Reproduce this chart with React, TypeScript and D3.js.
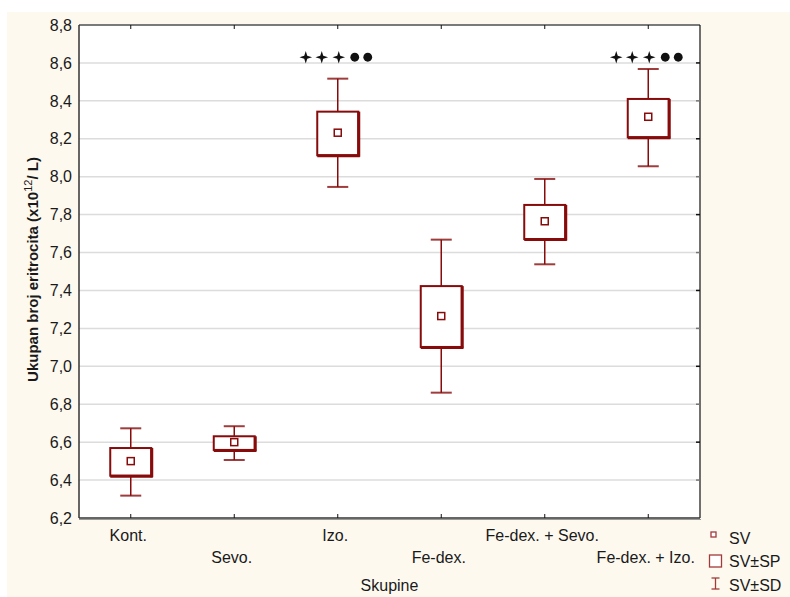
import React from "react";
import * as d3 from "d3";

const categories = ["Kont.", "Sevo.", "Izo.", "Fe-dex.", "Fe-dex. + Sevo.", "Fe-dex. + Izo."];
const means = [6.5, 6.6, 8.232, 7.265, 7.765, 8.316];
const seLow = [6.423, 6.559, 8.113, 7.102, 7.671, 8.208];
const seHigh = [6.569, 6.631, 8.343, 7.423, 7.851, 8.41];
const sdLow = [6.318, 6.506, 7.946, 6.861, 7.538, 8.055];
const sdHigh = [6.673, 6.684, 8.517, 7.668, 7.988, 8.568];
const marks = ["", "", "✦✦✦●●", "", "", "✦✦✦●●"];
const yTicks = [6.2, 6.4, 6.6, 6.8, 7.0, 7.2, 7.4, 7.6, 7.8, 8.0, 8.2, 8.4, 8.6, 8.8];
const legendLabels = ["SV", "SV±SP", "SV±SD"];
const xTitle = "Skupine";

const W = 790, H = 597;
const L = 79, R = 700, T = 25, B = 518;
const RED = "#870b0b";
const FONT = "'Liberation Sans', Arial, sans-serif";

function starPath(cx: number, cy: number, ro: number, ri: number) {
  const pts: string[] = [];
  for (let i = 0; i < 8; i++) {
    const a = (Math.PI / 4) * i - Math.PI / 2;
    const r = i % 2 === 0 ? ro : ri;
    pts.push(`${cx + r * Math.cos(a)},${cy + r * Math.sin(a)}`);
  }
  return "M" + pts.join("L") + "Z";
}

export default function App() {
  const y = d3.scaleLinear().domain([6.2, 8.8]).range([B, T]);
  const x = d3.scaleBand<string>().domain(categories).range([L, R]);
  const cx = (c: string) => (x(c) as number) + x.bandwidth() / 2;
  const fmt = (v: number) => d3.format(".1f")(v).replace(".", ",");
  const boxW = 41;
  const capW = 21;
  const markOffsets = [-32, -16, 1, 17, 30];

  return (
    <svg width={W} height={H} style={{ position: "absolute", left: 0, top: 0 }} fontFamily={FONT}>
      <rect x={0} y={0} width={W} height={H} fill="#ffffff" />
      <rect x={7} y={12} width={W - 7} height={H - 12} fill="#fdf9ef" />
      <rect x={L} y={T} width={R - L} height={B - T} fill="#ffffff" />
      {yTicks.slice(1, -1).map((t) => (
        <line key={t} x1={L} x2={R} y1={y(t)} y2={y(t)} stroke="#dcdcdc" strokeWidth={1.5} />
      ))}
      {/* frame */}
      <line x1={L} x2={R} y1={T} y2={T} stroke="#7a7a7a" strokeWidth={2} />
      <line x1={R} x2={R} y1={T} y2={B} stroke="#111" strokeWidth={1.2} />
      <line x1={L} x2={L} y1={T} y2={B} stroke="#333" strokeWidth={1.5} />
      <line x1={L} x2={R} y1={B} y2={B} stroke="#333" strokeWidth={1.5} />
      <line x1={L} x2={R + 1} y1={B + 1.5} y2={B + 1.5} stroke="#999" strokeWidth={1} />
      {yTicks.slice(1, -1).map((t, i) => (
        <line key={"rt" + t} x1={R - 4} x2={R} y1={y(t)} y2={y(t)} stroke={i % 2 === 0 ? "#777" : "#111"} strokeWidth={1.5} />
      ))}
      {categories.map((c) => (
        <g key={"tk" + c}>
          <line x1={cx(c)} x2={cx(c)} y1={B} y2={B - 4} stroke="#111" strokeWidth={1} />
          <line x1={cx(c)} x2={cx(c)} y1={T} y2={T + 4} stroke="#111" strokeWidth={1} />
        </g>
      ))}
      {/* y tick labels */}
      {yTicks.map((t) => (
        <text key={"yl" + t} x={72} y={y(t) + 5.7} textAnchor="end" fontSize={16} fill="#1a1a1a">
          {fmt(t)}
        </text>
      ))}
      {/* x tick labels */}
      {categories.map((c, i) => (
        <text key={"xl" + c} x={cx(c) - 2.5} y={i % 2 === 0 ? 541 : 563} textAnchor="middle" fontSize={16} fill="#1a1a1a">
          {c}
        </text>
      ))}
      <text x={(L + R) / 2} y={591} textAnchor="middle" fontSize={16} fill="#1a1a1a">
        {xTitle}
      </text>
      <text transform={`translate(38, ${(T + B) / 2 - 2}) rotate(-90)`} textAnchor="middle" fontSize={15} fontWeight="bold" fill="#1a1a1a">
        Ukupan broj eritrocita (x10
        <tspan dy={-6} fontSize={11} fontWeight="normal">12</tspan>
        <tspan dy={6}>/ L)</tspan>
      </text>
      {/* boxes */}
      {categories.map((c, i) => {
        const xc = cx(c);
        const x0 = xc - boxW / 2;
        const yt = y(seHigh[i]);
        const yb = y(seLow[i]);
        return (
          <g key={"bx" + c}>
            <line x1={xc} x2={xc} y1={y(sdHigh[i])} y2={yt} stroke={RED} strokeWidth={1.5} />
            <line x1={xc} x2={xc} y1={yb} y2={y(sdLow[i])} stroke={RED} strokeWidth={1.5} />
            <line x1={xc - capW / 2} x2={xc + capW / 2} y1={y(sdHigh[i])} y2={y(sdHigh[i])} stroke={RED} strokeWidth={2} strokeOpacity={0.8} />
            <line x1={xc - capW / 2} x2={xc + capW / 2} y1={y(sdLow[i])} y2={y(sdLow[i])} stroke={RED} strokeWidth={2} strokeOpacity={0.8} />
            <rect x={x0} y={yt} width={boxW} height={yb - yt} fill="#fff" stroke={RED} strokeWidth={2} />
            <line x1={x0} x2={x0 + boxW + 1.5} y1={yb + 0.5} y2={yb + 0.5} stroke={RED} strokeWidth={3} />
            <line x1={x0 + boxW + 0.5} x2={x0 + boxW + 0.5} y1={yt} y2={yb + 1.5} stroke={RED} strokeWidth={3} />
            <rect x={xc - 3.5} y={y(means[i]) - 3.5} width={7} height={7} fill="#fff" stroke={RED} strokeWidth={1.5} />
            {marks[i].split("").map((ch, k) => {
              const mx = xc + markOffsets[k];
              const my = y(8.63);
              return ch === "✦" ? (
                <path key={k} d={starPath(mx, my, 6.3, 2.1)} fill="#111" />
              ) : (
                <circle key={k} cx={mx} cy={my} r={4.4} fill="#111" />
              );
            })}
          </g>
        );
      })}
      {/* legend */}
      <rect x={711} y={532} width={5} height={5} fill="#fff" stroke="#a23a3a" strokeWidth={1.3} />
      <text x={729} y={543.5} fontSize={16} fill="#1a1a1a">{legendLabels[0]}</text>
      <rect x={709.5} y={555} width={12} height={12} fill="#fff" stroke="#a23a3a" strokeWidth={1.3} />
      <text x={729} y={567} fontSize={16} fill="#1a1a1a">{legendLabels[1]}</text>
      <line x1={715.5} x2={715.5} y1={578} y2={589} stroke="#a23a3a" strokeWidth={1.3} />
      <line x1={711.5} x2={719.5} y1={578} y2={578} stroke="#a23a3a" strokeWidth={1.3} />
      <line x1={711.5} x2={719.5} y1={589} y2={589} stroke="#a23a3a" strokeWidth={1.3} />
      <text x={729} y={591} fontSize={16} fill="#1a1a1a">{legendLabels[2]}</text>
    </svg>
  );
}
